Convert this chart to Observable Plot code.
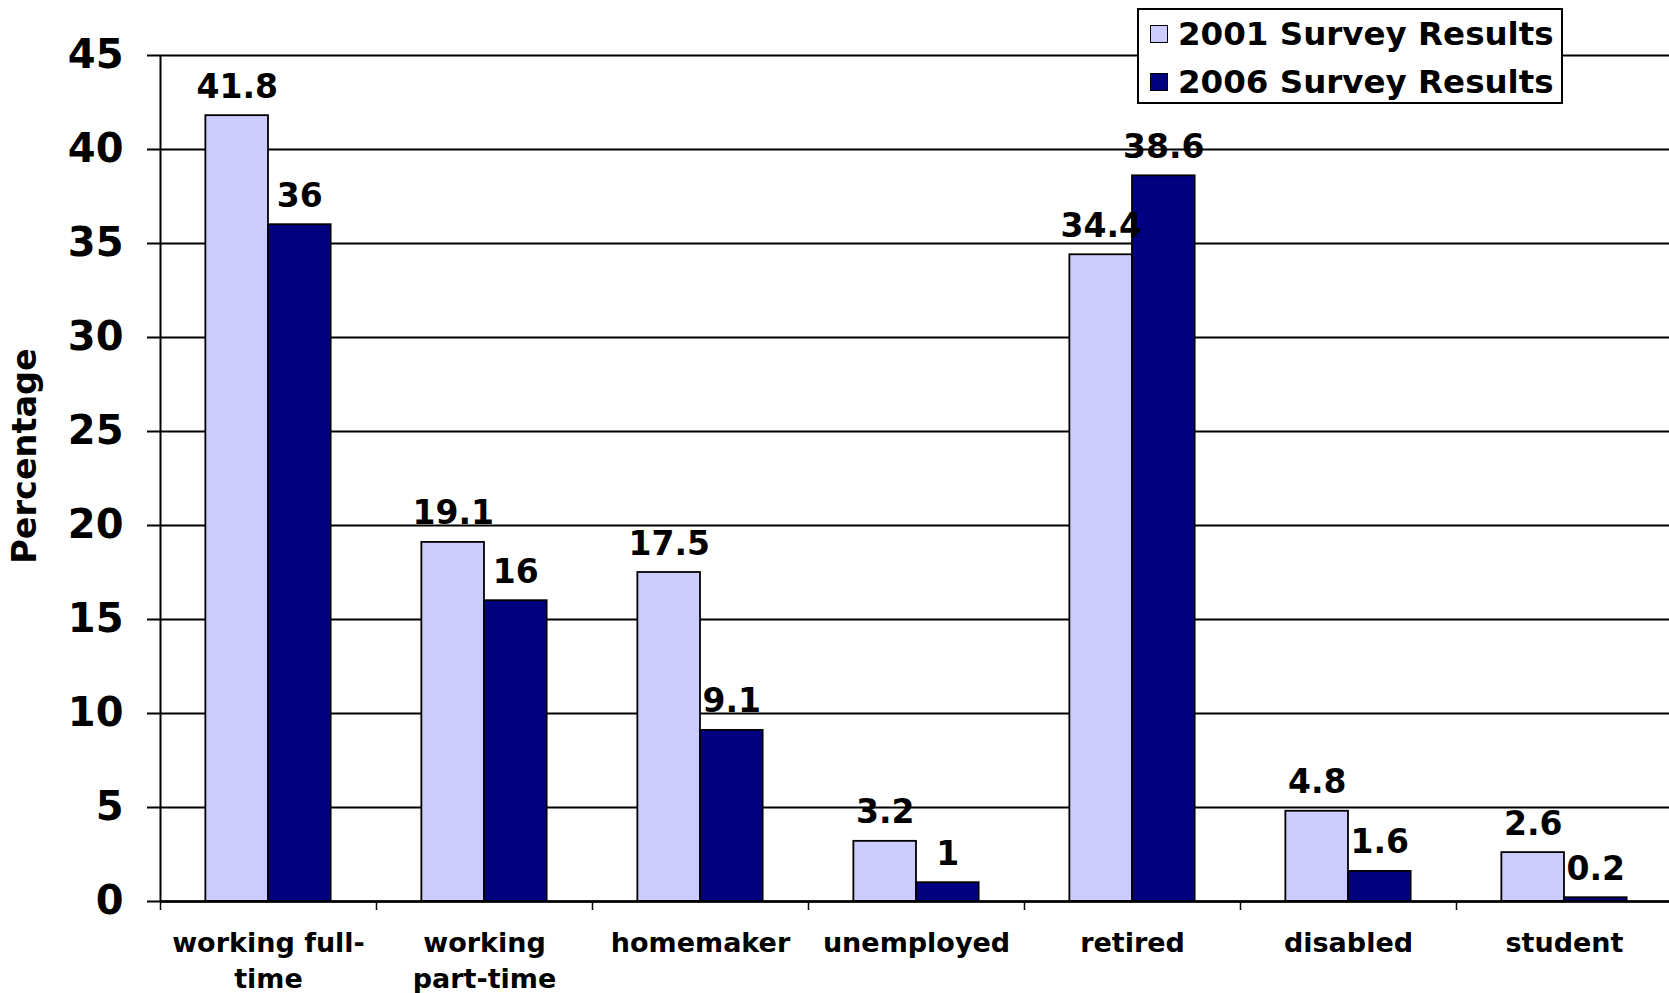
<!DOCTYPE html>
<html>
<head>
<meta charset="utf-8">
<script src="https://cdn.jsdelivr.net/npm/d3@7"></script>
<script src="https://cdn.jsdelivr.net/npm/@observablehq/plot@0.6"></script>
<style>
  html, body { margin: 0; padding: 0; background: #fff; overflow: hidden; }
  #wrap { position: relative; width: 1669px; height: 993px; font-family: "DejaVu Sans", Verdana, sans-serif; font-weight: bold; }
  #legend { position: absolute; left: 1137px; top: 8px; width: 426px; height: 96px; box-sizing: border-box;
            border: 2px solid #000; background: #fff; }
  .row { display: flex; align-items: center; height: 48px; }
  .sw { width: 18px; height: 18px; box-sizing: border-box; border: 1.5px solid #000; margin-left: 11px; margin-right: 10px; }
  .lt { font-size: 32.5px; line-height: 1; color: #000; white-space: nowrap; }
  #ylab { position: absolute; left: 25px; top: 456px; transform: translate(-50%, -50%) rotate(-90deg);
          font-size: 33.5px; line-height: 1; white-space: nowrap; color: #000; }
</style>
</head>
<body>
<div id="wrap">
  <div id="chart"></div>
  <div id="ylab"></div>
  <div id="legend"></div>
</div>
<script>
// ---- data ----
const categories = ["working full-time", "working part-time", "homemaker", "unemployed", "retired", "disabled", "student"];
const categoryLabels = ["working full-\ntime", "working\npart-time", "homemaker", "unemployed", "retired", "disabled", "student"];
const series2001 = [41.8, 19.1, 17.5, 3.2, 34.4, 4.8, 2.6];
const series2006 = [36, 16, 9.1, 1, 38.6, 1.6, 0.2];
const yTicks = [0, 5, 10, 15, 20, 25, 30, 35, 40, 45];
const seriesNames = ["2001 Survey Results", "2006 Survey Results"];
const seriesColors = ["#CCCCFF", "#000080"];
const yLabel = "Percentage";

// ---- layout ----
const W = 1669, H = 993;
const mL = 160, mR = -3, mT = 55, mB = 92;
const bw = (W - mL - mR) / categories.length;
const barW = bw * 0.29;
const outer = (bw - 2 * barW) / 2;
const plotH = H - mT - mB;

const rows = categories.map((c, i) => ({category: c, v2001: series2001[i], v2006: series2006[i]}));
const labelOf = new Map(categories.map((c, i) => [c, categoryLabels[i]]));
const font = "DejaVu Sans";

const chart = Plot.plot({
  width: W, height: H,
  marginLeft: mL, marginRight: mR, marginTop: mT, marginBottom: mB,
  style: {fontFamily: font, fontWeight: "bold", background: "#fff", color: "#000"},
  x: {type: "band", domain: categories, padding: 0},
  y: {domain: [0, 45]},
  marks: [
    Plot.gridY(yTicks, {stroke: "#000", strokeOpacity: 1, strokeWidth: 2}),
    Plot.barY(rows, {x: "category", y: "v2001", fill: seriesColors[0], stroke: "#000", strokeWidth: 1.8,
      insetLeft: outer, insetRight: outer + barW}),
    Plot.barY(rows, {x: "category", y: "v2006", fill: seriesColors[1], stroke: "#000", strokeWidth: 1.8,
      insetLeft: outer + barW, insetRight: outer}),
    Plot.text(rows, {x: "category", y: "v2001", text: d => String(d.v2001), dx: -barW / 2, dy: -18,
      lineAnchor: "bottom", fontSize: 33, fontWeight: "bold", fill: "#000"}),
    Plot.text(rows, {x: "category", y: "v2006", text: d => String(d.v2006), dx: barW / 2, dy: -18,
      lineAnchor: "bottom", fontSize: 33, fontWeight: "bold", fill: "#000"}),
    Plot.ruleX([categories[0]], {dx: -bw / 2, stroke: "#000", strokeWidth: 2}),
    Plot.tickX(categories, {x: d => d, dx: -bw / 2, stroke: "#000", strokeWidth: 1.5, insetTop: plotH, insetBottom: -9}),
    Plot.ruleY([0], {stroke: "#000", strokeWidth: 2.5}),
    Plot.axisY(yTicks, {tickSize: 13, tickPadding: 24, fontSize: 40, fontWeight: "bold", strokeWidth: 2, label: null}),
    Plot.axisX({tickSize: 0, tickPadding: 26, fontSize: 27, fontWeight: "bold", lineHeight: 1.3,
      tickFormat: d => labelOf.get(d), label: null})
  ]
});
document.getElementById("chart").appendChild(chart);

document.getElementById("ylab").textContent = yLabel;
const legend = document.getElementById("legend");
seriesNames.forEach((name, i) => {
  const row = document.createElement("div");
  row.className = "row";
  const sw = document.createElement("div");
  sw.className = "sw";
  sw.style.background = seriesColors[i];
  const lt = document.createElement("div");
  lt.className = "lt";
  lt.textContent = name;
  row.appendChild(sw); row.appendChild(lt);
  legend.appendChild(row);
});
</script>
</body>
</html>
